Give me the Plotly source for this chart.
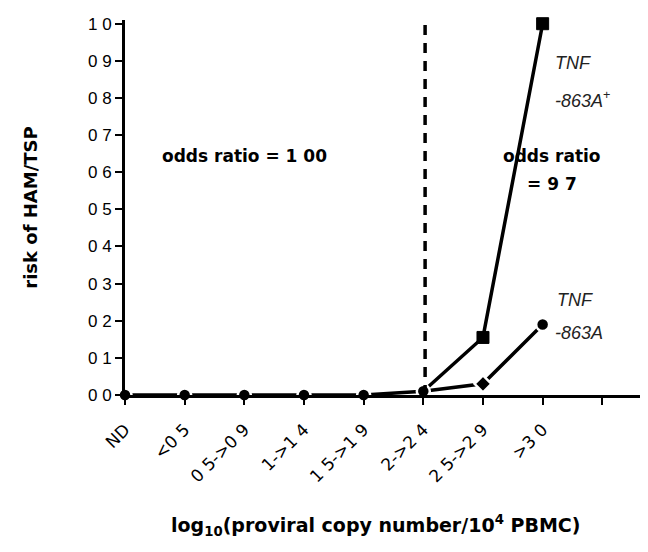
import plotly.graph_objects as go

categories = ["ND", "<0 5", "0 5->0 9", "1->1 4", "1 5->1 9", "2->2 4", "2 5->2 9", ">3 0"]
cat_pos = [0, 1, 2, 3, 4, 5, 6, 7]
risk_863A = [0.0, 0.0, 0.0, 0.0, 0.0, 0.01, 0.03, 0.19]
symbols_863A = ["circle"] * 6 + ["diamond", "circle"]
pos_plus = [5, 6, 7]
risk_863A_plus = [0.01, 0.155, 1.0]
y_ticks = [0.0, 0.1, 0.2, 0.3, 0.4, 0.5, 0.6, 0.7, 0.8, 0.9, 1.0]
y_ticktext = ["0 0", "0 1", "0 2", "0 3", "0 4", "0 5", "0 6", "0 7", "0 8", "0 9", "1 0"]
threshold_pos = 5.03

FONT = "Liberation Sans, Arial, sans-serif"
WIDE = "DejaVu Sans, Liberation Sans, sans-serif"

fig = go.Figure()
fig.add_trace(go.Scatter(
    x=pos_plus, y=risk_863A_plus, mode="lines+markers",
    line=dict(color="#000000", width=3.5),
    marker=dict(symbol=["circle", "square", "square"], size=[11, 12, 12], color="#000000",
                opacity=1, line=dict(color="#000000", width=1)),
    cliponaxis=False, showlegend=False))
fig.add_trace(go.Scatter(
    x=cat_pos, y=risk_863A, mode="lines+markers",
    line=dict(color="#000000", width=3.5),
    marker=dict(symbol=symbols_863A, size=13, color="#000000", opacity=1,
                line=dict(color="white", width=2.5)),
    cliponaxis=False, showlegend=False))

fig.add_shape(type="line", x0=threshold_pos, x1=threshold_pos, y0=0, y1=1.0,
              xref="x", yref="y", line=dict(color="black", width=3.5, dash="10px,8px"))

ann_font = dict(family=WIDE, size=17, color="black")
fig.add_annotation(x=2.0, y=0.643, text="<b>odds ratio = 1 00</b>", showarrow=False, font=ann_font)
fig.add_annotation(x=7.15, y=0.643, text="<b>odds ratio</b>", showarrow=False, font=ann_font)
fig.add_annotation(x=7.15, y=0.568, text="<b>= 9 7</b>", showarrow=False, font=ann_font)
it_font = dict(family=FONT, size=18, color="#222")
fig.add_annotation(x=7.17, y=0.893, text="<i>TNF</i>", showarrow=False, font=it_font, xanchor="left")
fig.add_annotation(x=7.17, y=0.796, text="<i>-863A</i><sup>+</sup>", showarrow=False, font=it_font, xanchor="left")
fig.add_annotation(x=7.2, y=0.255, text="<i>TNF</i>", showarrow=False, font=it_font, xanchor="left")
fig.add_annotation(x=7.17, y=0.166, text="<i>-863A</i>", showarrow=False, font=it_font, xanchor="left")

# x-axis title
fig.add_annotation(xref="paper", yref="paper", x=0.471, y=-0.347, yanchor="middle",
                   text="<b>log<sub>10</sub>(proviral copy number/10<sup>4</sup> PBMC)</b>",
                   showarrow=False, font=dict(family=WIDE, size=19, color="black"))

fig.update_layout(
    width=648, height=552,
    margin=dict(l=117, r=0, t=12, b=165),
    paper_bgcolor="white", plot_bgcolor="white",
    font=dict(family=FONT, size=14, color="black"),
    xaxis=dict(range=[0, 8.9], tickvals=cat_pos + [8], ticktext=categories + [""],
               tickangle=-45, showline=True, linecolor="black", linewidth=3,
               ticks="outside", ticklen=7, tickwidth=2, tickcolor="black",
               showgrid=False, zeroline=False, automargin=False,
               ticklabelstandoff=8,
               tickfont=dict(family=WIDE, size=17)),
    yaxis=dict(range=[0, 1.01], tickvals=y_ticks, ticktext=y_ticktext,
               showline=True, linecolor="black", linewidth=3,
               ticks="outside", ticklen=7, tickwidth=2, tickcolor="black",
               showgrid=False, zeroline=False, automargin=False,
               tickfont=dict(family=FONT, size=17),
               title=dict(text="<b>risk of HAM/TSP</b>", font=dict(family=WIDE, size=18), standoff=46)),
)

fig.write_html("out.html")
